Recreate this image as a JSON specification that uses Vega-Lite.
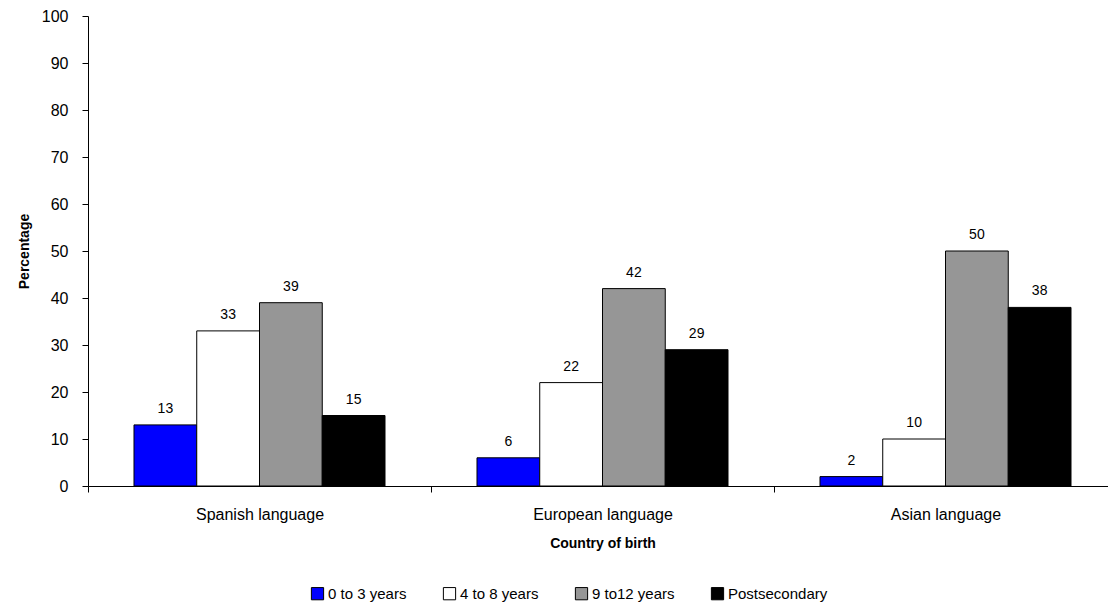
{
  "$schema": "https://vega.github.io/schema/vega-lite/v6.json",
  "width": 1029,
  "height": 470,
  "autosize": {"type": "none"},
  "padding": {"left": 88, "top": 16, "right": 0, "bottom": 119},
  "config": {
    "view": {"stroke": null},
    "font": "Liberation Sans",
    "axis": {"domainColor": "#000000", "tickColor": "#000000", "labelColor": "#000000", "titleColor": "#000000", "grid": false}
  },
  "data": {
    "values": [
      {"origin": "Spanish language", "level": "0 to 3 years", "pct": 13},
      {"origin": "Spanish language", "level": "4 to 8 years", "pct": 33},
      {"origin": "Spanish language", "level": "9 to12 years", "pct": 39},
      {"origin": "Spanish language", "level": "Postsecondary", "pct": 15},
      {"origin": "European language", "level": "0 to 3 years", "pct": 6},
      {"origin": "European language", "level": "4 to 8 years", "pct": 22},
      {"origin": "European language", "level": "9 to12 years", "pct": 42},
      {"origin": "European language", "level": "Postsecondary", "pct": 29},
      {"origin": "Asian language", "level": "0 to 3 years", "pct": 2},
      {"origin": "Asian language", "level": "4 to 8 years", "pct": 10},
      {"origin": "Asian language", "level": "9 to12 years", "pct": 50},
      {"origin": "Asian language", "level": "Postsecondary", "pct": 38}
    ]
  },
  "encoding": {
    "x": {
      "field": "origin",
      "type": "nominal",
      "sort": ["Spanish language", "European language", "Asian language"],
      "scale": {"paddingInner": 0, "paddingOuter": 0},
      "axis": {
        "title": "Country of birth",
        "titleFontSize": 14,
        "titleFontWeight": "bold",
        "titlePadding": 14,
        "labelAngle": 0,
        "labelFontSize": 16,
        "labelPadding": 14,
        "tickBand": "extent",
        "tickSize": 6
      }
    },
    "xOffset": {
      "field": "level",
      "type": "nominal",
      "sort": ["0 to 3 years", "4 to 8 years", "9 to12 years", "Postsecondary"],
      "scale": {"paddingInner": 0, "paddingOuter": 0.733}
    },
    "y": {
      "field": "pct",
      "type": "quantitative",
      "scale": {"domain": [0, 100], "nice": false},
      "axis": {
        "title": "Percentage",
        "titleFontSize": 14,
        "titleFontWeight": "bold",
        "titlePadding": 10,
        "values": [0, 10, 20, 30, 40, 50, 60, 70, 80, 90, 100],
        "labelFontSize": 16,
        "labelPadding": 14,
        "tickSize": 6
      }
    }
  },
  "layer": [
    {
      "mark": {"type": "bar", "stroke": "#000000", "strokeWidth": 1},
      "encoding": {
        "color": {
          "field": "level",
          "type": "nominal",
          "sort": ["0 to 3 years", "4 to 8 years", "9 to12 years", "Postsecondary"],
          "scale": {
            "domain": ["0 to 3 years", "4 to 8 years", "9 to12 years", "Postsecondary"],
            "range": ["#0000FF", "#FFFFFF", "#969696", "#000000"]
          },
          "legend": {
            "title": null,
            "orient": "none",
            "direction": "horizontal",
            "legendX": 222,
            "legendY": 570,
            "padding": 0,
            "symbolType": "square",
            "symbolSize": 150,
            "symbolStrokeColor": "#000000",
            "symbolStrokeWidth": 1,
            "symbolOpacity": 1,
            "labelFontSize": 15,
            "labelColor": "#000000",
            "labelOffset": 3,
            "columnPadding": 34
          }
        }
      }
    },
    {
      "mark": {"type": "text", "baseline": "bottom", "dy": -9, "fontSize": 14, "color": "#000000"},
      "encoding": {
        "text": {"field": "pct", "type": "quantitative"}
      }
    }
  ]
}
